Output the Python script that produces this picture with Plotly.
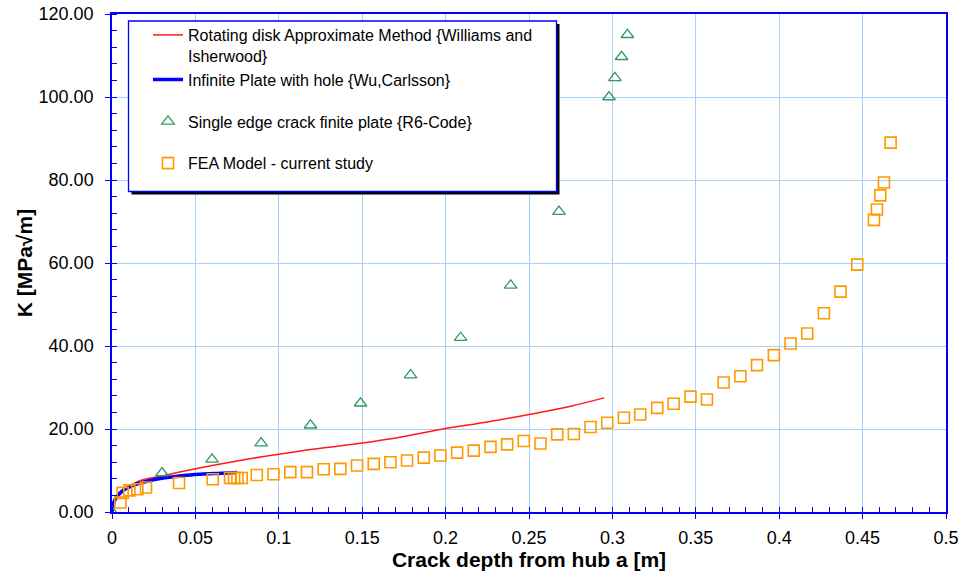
import plotly.graph_objects as go

# ---- data ----
rot_x = [0, 0.002, 0.005, 0.01, 0.018, 0.03, 0.045, 0.06, 0.075, 0.09, 0.113, 0.13, 0.15, 0.175, 0.2, 0.225, 0.25, 0.275, 0.295]
rot_k = [0, 3.4, 4.9, 6.2, 7.7, 8.7, 10.0, 11.2, 12.3, 13.3, 14.7, 15.6, 16.6, 18.2, 20.1, 21.7, 23.5, 25.5, 27.5]

wu_x = [0, 0.001, 0.003, 0.007, 0.013, 0.023, 0.033, 0.043, 0.053, 0.063, 0.075]
wu_k = [0, 2.2, 3.7, 5.3, 6.5, 7.6, 8.3, 8.8, 9.1, 9.3, 9.5]

r6_x = [0, 0.030, 0.060, 0.0894, 0.119, 0.149, 0.179, 0.209, 0.239, 0.268, 0.298, 0.3015, 0.3055, 0.309]
r6_k = [0, 9.4, 12.7, 16.6, 20.9, 26.2, 33.0, 42.0, 54.6, 72.4, 100.0, 104.6, 109.7, 115.0]

fea_x = [0.005, 0.0064, 0.0104, 0.0152, 0.0204, 0.0402, 0.0604, 0.0708, 0.0732, 0.0752, 0.0778,
         0.0868, 0.0968, 0.1069, 0.1169, 0.1269, 0.1369, 0.1469, 0.1569, 0.1669, 0.1769, 0.1869,
         0.1969, 0.2069, 0.2169, 0.2269, 0.2369, 0.2469, 0.2569, 0.2669, 0.2769, 0.2869, 0.2969,
         0.3069, 0.3167, 0.3269, 0.3367, 0.3468, 0.3567, 0.3667, 0.3767, 0.3867, 0.3968, 0.4068,
         0.4168, 0.4268, 0.4368, 0.4468, 0.4568, 0.4586, 0.4606, 0.4628, 0.4668]
fea_k = [2.3, 4.6, 5.2, 5.5, 5.9, 7.0, 7.9, 8.2, 8.2, 8.2, 8.2,
         8.9, 9.1, 9.6, 9.6, 10.3, 10.4, 11.2, 11.6, 12.0, 12.4, 13.1,
         13.6, 14.3, 14.8, 15.7, 16.3, 17.1, 16.5, 18.7, 18.8, 20.5, 21.5,
         22.7, 23.5, 25.1, 26.1, 27.8, 27.1, 31.2, 32.7, 35.4, 37.8, 40.6,
         43.0, 47.9, 53.1, 59.6, 70.4, 72.9, 76.3, 79.4, 89.0]

names = ["Rotating disk Approximate Method {Williams and<br>Isherwood}",
         "Infinite Plate with hole {Wu,Carlsson}",
         "Single edge crack finite plate {R6-Code}",
         "FEA Model - current study"]

FONT = "Arial, Liberation Sans, sans-serif"
BLUE = "#0000FF"
GRID = "#A8D0F8"

fig = go.Figure()
fig.add_trace(go.Scatter(x=rot_x, y=rot_k, mode="lines", name=names[0], legendgroup="a",
                         line=dict(color="#FF1A1A", width=1.5, shape="spline")))
fig.add_trace(go.Scatter(x=wu_x, y=wu_k, mode="lines", name=names[1], legendgroup="a",
                         line=dict(color=BLUE, width=3.5, shape="spline")))
fig.add_trace(go.Scatter(x=r6_x, y=r6_k, mode="markers", name=names[2], legendgroup="c",
                         marker=dict(symbol="triangle-up-open", size=11, color="#339966",
                                     line=dict(width=1.3, color="#339966"))))
fig.add_trace(go.Scatter(x=fea_x, y=fea_k, mode="markers", name=names[3], legendgroup="d",
                         marker=dict(symbol="square-open", size=11, color="#FF9900",
                                     line=dict(width=1.6, color="#FF9900"))))

# plot area in px: x 111.7-945.7, y 14-511.5
W, H = 961, 575
L, R, T, B = 112, 15, 14, 63
pw = W - L - R
ph = H - T - B

def px_x(p):
    return (p - L) / pw

def px_y(p):
    return (H - B - p) / ph

shapes = [
    dict(type="rect", xref="paper", yref="paper", layer="above",
         x0=px_x(131.5), x1=px_x(559.5), y0=px_y(194.5), y1=px_y(24),
         fillcolor="black", line=dict(width=0)),
    dict(type="rect", xref="paper", yref="paper", layer="above",
         x0=px_x(128.5), x1=px_x(556.5), y0=px_y(191.5), y1=px_y(21),
         fillcolor="white", line=dict(color=BLUE, width=1.3)),
]

fig.update_layout(
    width=W, height=H,
    margin=dict(l=L, r=R, t=T, b=B, autoexpand=False),
    paper_bgcolor="white", plot_bgcolor="white",
    font=dict(family=FONT, size=18, color="black"),
    shapes=shapes,
    showlegend=True,
    legend=dict(x=px_x(148), y=px_y(18), xanchor="left", yanchor="top",
                bgcolor="rgba(0,0,0,0)", borderwidth=0,
                font=dict(family=FONT, size=16, color="black"),
                traceorder="grouped", tracegroupgap=18, valign="top",
                itemwidth=30),
    xaxis=dict(range=[0, 0.5], dtick=0.05, tick0=0, showgrid=True, gridcolor=GRID, gridwidth=1,
               zeroline=False, showline=True, linecolor=BLUE, linewidth=1.5, mirror=True,
               ticks="outside", ticklen=5, tickcolor=BLUE, tickwidth=1.2,
               tickfont=dict(family=FONT, size=18), ticklabelstandoff=4,
               minor=dict(dtick=0.01, ticks="inside", ticklen=5, tickcolor=BLUE, tickwidth=1, showgrid=False),
               title=dict(text="<b>Crack depth from hub a [m]</b>", font=dict(family=FONT, size=21), standoff=2),
               automargin=False),
    yaxis=dict(range=[0, 120], dtick=20, tick0=0, tickformat=".2f", showgrid=True, gridcolor=GRID, gridwidth=1,
               zeroline=False, showline=True, linecolor=BLUE, linewidth=1.5, mirror=True,
               ticks="outside", ticklen=5, tickcolor=BLUE, tickwidth=1.2,
               tickfont=dict(family=FONT, size=18), ticklabelstandoff=8,
               minor=dict(dtick=4, ticks="inside", ticklen=5, tickcolor=BLUE, tickwidth=1, showgrid=False),
               title=dict(text="<b>K [MPa√m]</b>", font=dict(family=FONT, size=21), standoff=0),
               automargin=False),
)

fig.write_html("out.html")
